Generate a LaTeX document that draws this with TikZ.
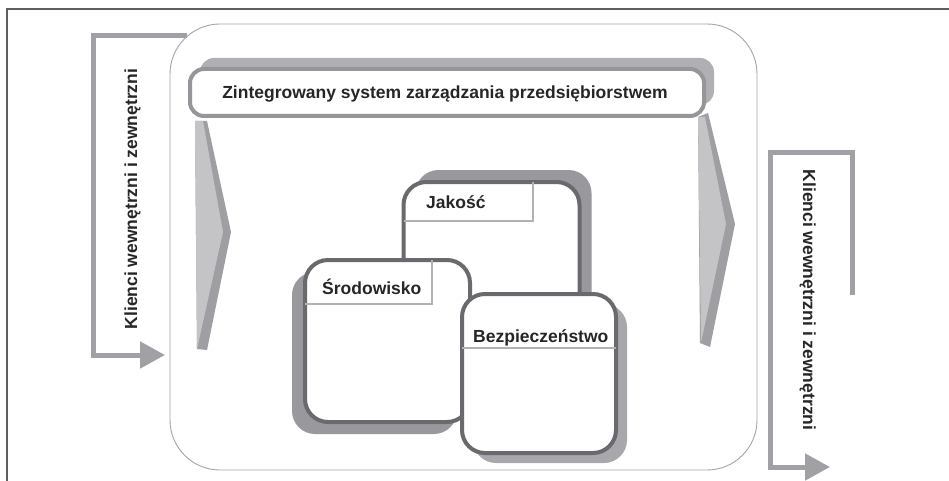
\documentclass[tikz,border=0pt]{standalone}
\usepackage{fontspec}
\setmainfont{Liberation Sans}
\usetikzlibrary{arrows.meta}

\definecolor{framegray}{RGB}{95,95,95}
\definecolor{outergray}{RGB}{165,165,168}
\definecolor{bracketgray}{RGB}{160,160,165}
\definecolor{wedgelight}{RGB}{196,196,199}
\definecolor{wedgedark}{RGB}{158,158,163}
\definecolor{bannerline}{RGB}{150,150,154}
\definecolor{bannershadow}{RGB}{176,176,180}
\definecolor{boxline}{RGB}{105,105,110}
\definecolor{boxshadow}{RGB}{152,152,157}
\definecolor{lightshadow}{RGB}{168,168,172}
\definecolor{tabline}{RGB}{178,178,181}
\definecolor{textdark}{RGB}{38,38,38}

\begin{document}
\begin{tikzpicture}[x=1pt,y=-1pt,
  lbl/.style={inner sep=0pt, text=textdark,
    font=\fontsize{17.5}{20}\selectfont\bfseries},
  bracket/.style={draw=bracketgray, line width=5pt,
    -{Triangle[length=25pt,width=26pt]}},
  panel/.style={rectangle, draw=boxline, fill=white, line width=4pt,
    rounded corners=23pt, inner sep=0pt, outer sep=0pt},
  panelshadow/.style={rectangle, fill=boxshadow, rounded corners=23pt,
    inner sep=0pt, outer sep=0pt},
  tabrule/.style={draw=tabline, line width=2pt},
  banner/.style={rectangle, draw=bannerline, fill=white, line width=4pt,
    rounded corners=14pt, inner sep=0pt, outer sep=0pt},
  bannershade/.style={rectangle, fill=bannershadow, rounded corners=14pt,
    inner sep=0pt, outer sep=0pt}]

\useasboundingbox (0,0) rectangle (949,481);
\fill[white] (0,0) rectangle (949,481);

% page frame (top and left rules)
\coordinate (fa) at (7,481);
\coordinate (fb) at (7,9);
\coordinate (fc) at (949,9);
\draw[framegray, line width=1.4pt] (fa) -- (fb) -- (fc);

% incoming clients bracket
\coordinate (la) at (187,36);
\coordinate (lb) at (93,36);
\coordinate (lc) at (93,355);
\coordinate (ld) at (165,355);
\draw[bracket] (la) -- (lb) -- (lc) -- (ld);

% outgoing clients bracket
\coordinate (ra) at (852,295);
\coordinate (rb) at (852,153);
\coordinate (rc) at (770,153);
\coordinate (rd) at (770,467);
\coordinate (re) at (830,467);
\draw[bracket] (ra) -- (rb) -- (rc) -- (rd) -- (re);

% enterprise boundary
\node[rectangle, draw=outergray, line width=0.9pt, rounded corners=50pt,
  minimum width=587pt, minimum height=446pt, inner sep=0pt, outer sep=0pt]
  (company) at (463.5,247) {};

% flow chevrons under the banner
\fill[wedgedark] (195,121) -- (207,121) -- (231,232) -- (207,350) -- (197,349) -- cycle;
\fill[wedgelight] (195,121) -- (203,121) -- (223,232) -- (197,349) -- cycle;
\fill[wedgedark] (698,117) -- (708,113) -- (735,224) -- (710,347) -- (700,343) -- cycle;
\fill[wedgelight] (698,117) -- (705,117) -- (726,224) -- (701,343) -- cycle;

% banner
\node[bannershade, minimum width=514pt, minimum height=47pt] (bansh) at (457,81.5) {};
\node[banner, minimum width=514pt, minimum height=47pt] (ban) at (447,92.5) {};
\node[lbl, anchor=base] (bantxt) at (445,99)
  {Zintegrowany system zarządzania przedsiębiorstwem};

% quality panel
\node[panelshadow, minimum width=176pt, minimum height=228pt] (jaksh) at (503.5,284) {};
\node[panel, minimum width=176pt, minimum height=228pt] (jak) at (491.5,296) {};
\coordinate (jakcut) at (533,221);
\draw[tabrule] (jakcut |- jak.north) -- (jakcut) -- (jakcut -| jak.west);
\node[lbl, anchor=base west] (jaktxt) at (426,208) {Jakość};

% environment panel
\node[panelshadow, minimum width=165pt, minimum height=162pt] (srosh) at (374.5,353) {};
\node[panel, minimum width=165pt, minimum height=162pt] (sro) at (387.5,341) {};
\coordinate (srocut) at (432,304);
\draw[tabrule] (srocut |- sro.north) -- (srocut) -- (srocut -| sro.west);
\node[lbl, anchor=base west] (srotxt) at (322,294) {Środowisko};

% safety panel
\node[panelshadow, fill=lightshadow, minimum width=154pt, minimum height=159pt]
  (bezsh) at (550,383.5) {};
\node[panel, minimum width=154pt, minimum height=159pt] (bez) at (539,373.5) {};
\coordinate (bezcut) at (540,348);
\draw[tabrule] (bezcut -| bez.west) -- (bezcut -| bez.east);
\node[lbl, anchor=base west] (beztxt) at (473,342) {Bezpieczeństwo};

% client labels
\node[lbl, anchor=base, rotate=90] (lefttxt) at (137,199)
  {Klienci wewnętrzni i zewnętrzni};
\node[lbl, anchor=base, rotate=-90] (righttxt) at (803,300)
  {Klienci wewnętrzni i zewnętrzni};

\end{tikzpicture}
\end{document}
